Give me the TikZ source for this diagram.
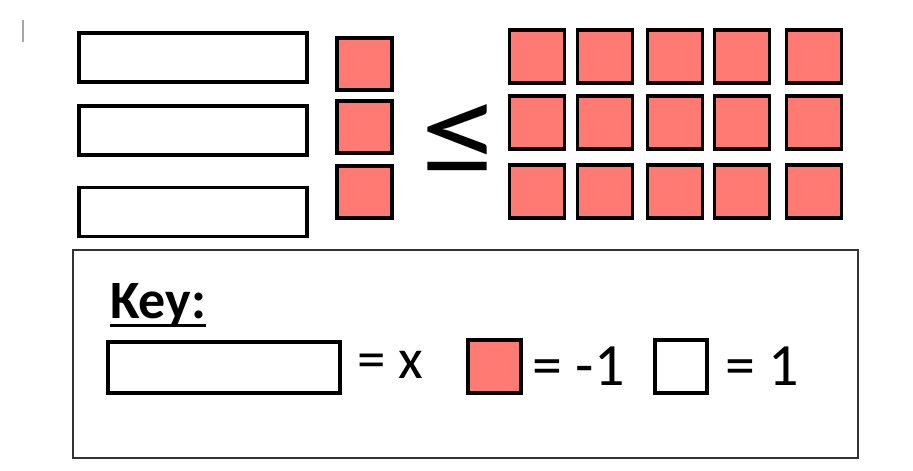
\documentclass[tikz,border=0pt]{standalone}
\usepackage{fontspec}
\setmainfont{Carlito}
\usepackage{xcolor}
\usetikzlibrary{calc}

\definecolor{tilered}{RGB}{255,122,115}

\tikzset{
  xtile/.style={draw, line width=3.5pt, fill=white, inner sep=0pt,
    minimum width=228pt, minimum height=49pt},
  negtile/.style={draw, line width=3.5pt, fill=tilered, inner sep=0pt,
    minimum width=55pt, minimum height=53pt},
  postile/.style={draw, line width=3.5pt, fill=white, inner sep=0pt,
    minimum width=52pt, minimum height=53pt},
  keytext/.style={inner sep=0pt, anchor=base west,
    font=\fontsize{60}{66}\selectfont},
}

\begin{document}
\begin{tikzpicture}[x=1pt,y=-1pt]

  \useasboundingbox (0,0) rectangle (913,471);

  % stray mark top left
  \draw[black!35, line width=1.5pt] (23,20) -- (23,42);

  % left side: three x bars and three -1 tiles
  \node[xtile] (x1) at (193,57.5) {};
  \node[xtile] (x2) at (193,130.5) {};
  \node[xtile] (x3) at (193,212) {};

  \node[negtile, minimum height=52pt] (n1) at (364.5,64) {};
  \node[negtile, minimum height=52pt] (n2) at (364.5,127) {};
  \node[negtile, minimum height=52pt] (n3) at (364.5,192) {};

  % inequality sign
  \node[inner sep=0pt, xscale=1.3, yscale=1.03,
    font=\fontsize{125}{130}\selectfont] (le) at (461,140) {≤};

  % right side: 3 x 5 tiles of -1
  \foreach \r/\y in {1/56.5, 2/122.5, 3/191.5}
    \foreach \c/\x in {1/537, 2/605, 3/675, 4/742, 5/814}
      \node[negtile] (t-\r-\c) at (\x,\y) {};

  % key
  \draw[black!80, line width=2.5pt] (73,250) rectangle (858,458);

  \node[keytext, font=\bfseries\fontsize{54}{60}\selectfont] (key) at (110,318) {Key:};
  \draw[line width=3pt] ($(key.base west)+(0,7)$) -- ($(key.base east)+(0,7)$);

  \node[xtile, minimum width=232pt, minimum height=51pt] (kx) at (224,367.5) {};
  \node[keytext, font=\fontsize{57}{63}\selectfont] (kxt) at (357,378) {= x};

  \node[negtile, minimum width=53pt] (kn) at (494.5,366.5) {};
  \node[keytext] (knt) at (532,385) {= -1};

  \node[postile] (kp) at (681,366.5) {};
  \node[keytext] (kpt) at (725,385) {= 1};

\end{tikzpicture}
\end{document}
